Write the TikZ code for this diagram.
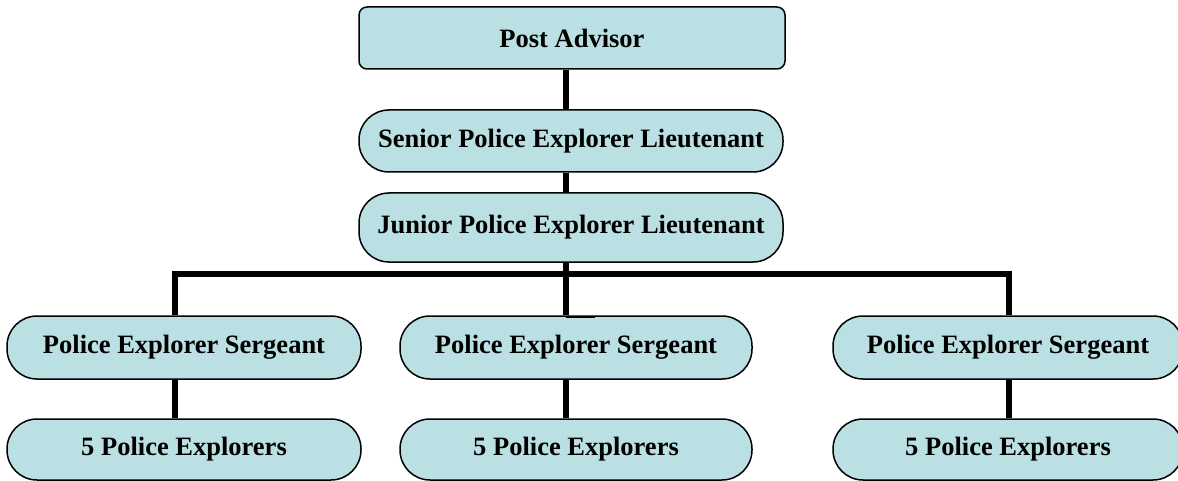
\documentclass[tikz,border=0pt]{standalone}
\usepackage{fontspec}
\setmainfont{Liberation Serif}
\definecolor{boxfill}{RGB}{186,224,227}
\begin{document}
\begin{tikzpicture}[x=1pt,y=-1pt,
  every node/.style={font=\fontsize{26.5}{30}\selectfont\bfseries, inner sep=0pt},
  squarebox/.style={draw=black, line width=1.5pt, fill=boxfill, rounded corners=8pt},
  pillbox/.style={draw=black, line width=1.5pt, fill=boxfill, rounded corners=30pt},
  wire/.style={line width=5.5pt, line join=miter},
]
\useasboundingbox (0,0) rectangle (1178,481);

% boxes
\node[squarebox, minimum width=426pt, minimum height=62pt] (post) at (572,38) {Post Advisor};
\node[pillbox, minimum width=424pt, minimum height=62pt] (senior) at (571,141) {Senior Police Explorer Lieutenant};
\node[pillbox, minimum width=424pt, minimum height=69pt] (junior) at (571,227.5) {Junior Police Explorer Lieutenant};

\node[pillbox, minimum width=354pt, minimum height=63pt] (sgtA) at (184,347.5) {\raisebox{-2pt}{Police Explorer Sergeant}};
\node[pillbox, minimum width=352pt, minimum height=63pt] (sgtB) at (576,347.5) {\raisebox{3pt}{Police Explorer Sergeant}};
\node[pillbox, minimum width=350pt, minimum height=63pt] (sgtC) at (1008,347.5) {\raisebox{3pt}{Police Explorer Sergeant}};

\node[pillbox, minimum width=354pt, minimum height=61pt] (expA) at (184,449.5) {5 Police Explorers};
\node[pillbox, minimum width=352pt, minimum height=61pt] (expB) at (576,449.5) {5 Police Explorers};
\node[pillbox, minimum width=350pt, minimum height=61pt] (expC) at (1008,449.5) {5 Police Explorers};

% connector columns and branching bar
\coordinate (colA) at (175,274);
\coordinate (colB) at (566,274);
\coordinate (colC) at (1009,274);

\draw[wire] (post.south -| colB) -- (senior.north -| colB);
\draw[wire] (senior.south -| colB) -- (junior.north -| colB);
\draw[wire] (junior.south -| colB) -- (colB);
\draw[wire] (sgtA.north -| colA) -- (colA) -- (colC) -- (sgtC.north -| colC);
\draw[wire] (colB) -- (sgtB.north -| colB);
\draw[line width=2.5pt] ([yshift=-1.5pt]sgtB.north -| colB) -- ([xshift=19pt,yshift=-1.5pt]sgtB.north);

\draw[wire] (sgtA.south -| colA) -- (expA.north -| colA);
\draw[wire] (sgtB.south -| colB) -- (expB.north -| colB);
\draw[wire] (sgtC.south -| colC) -- (expC.north -| colC);
\end{tikzpicture}
\end{document}
